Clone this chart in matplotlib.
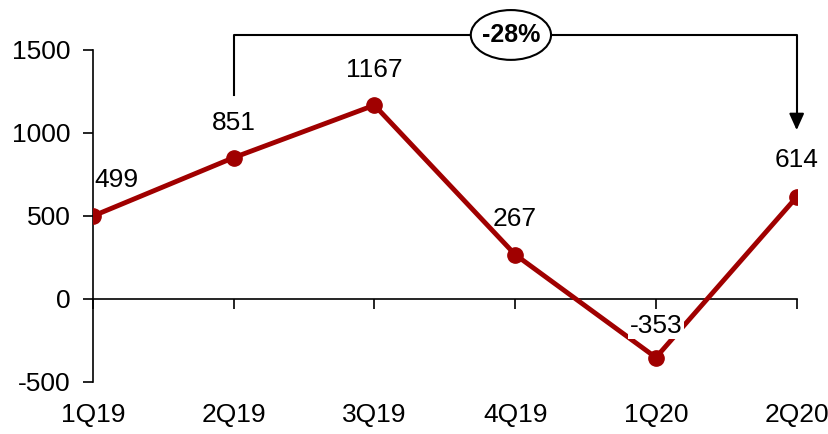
import matplotlib
matplotlib.use('Agg')
import matplotlib.pyplot as plt
from matplotlib import font_manager
from matplotlib.patches import Ellipse

quarters = ['1Q19', '2Q19', '3Q19', '4Q19', '1Q20', '2Q20']
values = [499, 851, 1167, 267, -353, 614]
change_label = '-28%'

names = {f.name for f in font_manager.fontManager.ttflist}
fam = 'Liberation Sans Narrow' if 'Liberation Sans Narrow' in names else 'Liberation Sans'
plt.rcParams['font.family'] = [fam, 'DejaVu Sans']
plt.rcParams['axes.unicode_minus'] = False

red = '#A00000'
fs = 19
fig = plt.figure(figsize=(8.29, 4.34), dpi=100)
ax = fig.add_axes([0.112, 0.12, 0.849, 0.765])

x = list(range(len(quarters)))
ax.plot(x, values, color=red, lw=3.5, marker='o', ms=11, zorder=3)

ax.set_xlim(0, 5)
ax.set_ylim(-500, 1500)
ax.set_yticks([-500, 0, 500, 1000, 1500])
ax.set_xticks(x)
ax.tick_params(axis='y', labelsize=fs, length=7, width=1.2, pad=9)
ax.tick_params(axis='x', length=7, width=1.2, labelbottom=False)
ax.spines['top'].set_visible(False)
ax.spines['right'].set_visible(False)
ax.spines['bottom'].set_position(('data', 0))
ax.spines['left'].set_linewidth(1.2)
ax.spines['bottom'].set_linewidth(1.2)

for xi, q in zip(x, quarters):
    ax.text(xi, -0.1, q, transform=ax.get_xaxis_transform(), ha='center',
            va='center', fontsize=fs)

# value labels
offsets = {0: (0.17, 215), 1: (0, 210), 2: (0, 210), 3: (0, 215), 4: (0, 190), 5: (0, 225)}
for xi, v in zip(x, values):
    dx, dy = offsets[xi]
    kw = {}
    if v < 0:
        kw['bbox'] = dict(fc='white', ec='none', pad=1)
    ax.text(xi + dx, v + dy, str(v), ha='center', va='center', fontsize=fs,
            zorder=4, **kw)

# bracket with change
top = 1590
ax.plot([1, 1, 5, 5], [1229, top, top, 1080], color='black', lw=1.5,
        clip_on=False, zorder=2)
ax.annotate('', xy=(5, 1000), xytext=(5, 1090),
            arrowprops=dict(arrowstyle='-|>,head_width=0.45,head_length=1.0',
                            color='black', lw=1.5), annotation_clip=False)
ax.add_patch(Ellipse((2.97, top), 0.57, 300, fc='white', ec='black', lw=1.5,
                     clip_on=False, zorder=4))
ax.text(2.97, top, change_label, ha='center', va='center', fontsize=18,
        fontweight='bold', zorder=5)

fig.savefig('out.png', dpi=100)
